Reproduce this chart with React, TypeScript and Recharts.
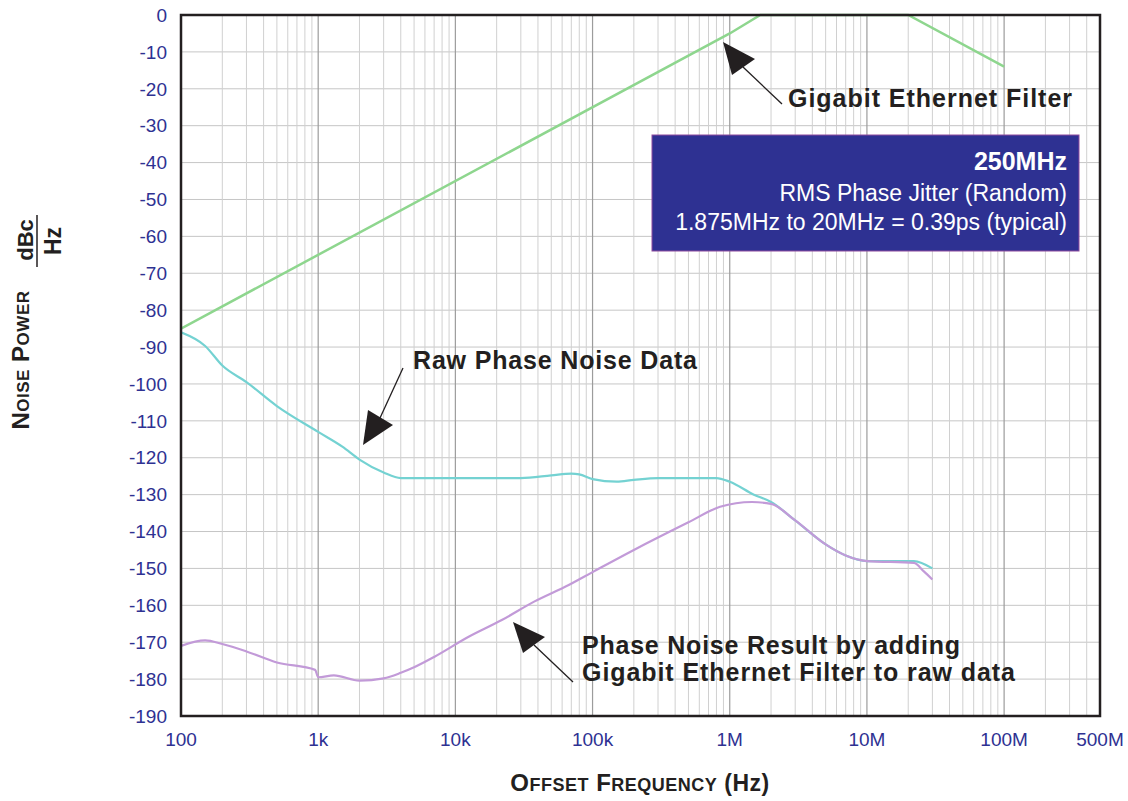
import { LineChart, Line, XAxis, YAxis, CartesianGrid, ReferenceLine } from 'recharts'

const FONT = '"Liberation Sans", Arial, Helvetica, sans-serif'
const TICK_BLUE = '#2e3192'
const INK = '#231f20'

// axis ticks
const FREQ_TICKS = [100, 1e3, 1e4, 1e5, 1e6, 1e7, 1e8, 5e8]
const FREQ_LABELS = ['100', '1k', '10k', '100k', '1M', '10M', '100M', '500M']
const DB_TICKS = [0, -10, -20, -30, -40, -50, -60, -70, -80, -90, -100, -110, -120, -130, -140, -150, -160, -170, -180, -190]

// log grid
const DECADES = [100, 1e3, 1e4, 1e5, 1e6, 1e7, 1e8]
const MINOR_STEPS = [2, 3, 4, 5, 6, 7, 8, 9]

// Gigabit Ethernet filter mask
const filterFreq = [100, 1e6, 1.67e6, 2e7, 1e8]
const filterDb = [-85, -5, 0, 0, -14]

// raw phase noise data
const rawFreq = [100, 150, 200, 300, 500, 1e3, 1.5e3, 2e3, 3e3, 4e3, 1e4, 3e4, 5e4, 7e4, 8e4, 1e5, 1.5e5, 2e5, 3e5, 8e5, 1e6, 1.5e6, 2e6, 3e6, 5e6, 7e6, 1e7, 2.2e7, 3e7]
const rawDb = [-86, -89.7, -95, -99.5, -106, -113, -117, -120.5, -124, -125.5, -125.5, -125.5, -124.8, -124.3, -124.5, -125.8, -126.5, -126, -125.5, -125.5, -126.5, -130, -132, -137, -143.5, -146.5, -148, -148, -150]

// result after filtering
const resFreq = [100, 150, 200, 300, 500, 950, 1e3, 1.3e3, 2e3, 3e3, 4e3, 5e3, 7e3, 1.24e4, 2.18e4, 3.75e4, 6.7e4, 1e5, 2e5, 5e5, 8.5e5, 1.45e6, 2e6, 3e6, 5e6, 7e6, 1e7, 2.2e7, 2.6e7, 3e7]
const resDb = [-171, -169.5, -170.5, -172.5, -175.5, -177.5, -179.5, -179, -180.4, -179.8, -178.3, -176.8, -174, -168.6, -164, -159, -154.5, -151, -145, -137.5, -133.3, -132, -132.5, -137, -143.5, -146.5, -148, -148.5, -150.8, -153]

const toPoints = (fs: number[], vs: number[]) => fs.map((f, i) => ({ f, db: vs[i] }))

const minorLines = DECADES.flatMap(d => MINOR_STEPS.map(m => d * m)).filter(v => v < 5e8)

function fmtFreq(v: number) {
  const i = FREQ_TICKS.indexOf(v)
  return i >= 0 ? FREQ_LABELS[i] : ''
}

function SmallCaps({ words, big, small }: { words: string[]; big: number; small: number }) {
  return (
    <>
      {words.map((w, i) => (
        <tspan key={i}>
          <tspan fontSize={big}>{(i > 0 ? ' ' : '') + w[0]}</tspan>
          <tspan fontSize={small}>{w.slice(1)}</tspan>
        </tspan>
      ))}
    </>
  )
}

function Overlay() {
  return (
    <svg
      width={1128}
      height={801}
      style={{ position: 'absolute', left: 0, top: 0, pointerEvents: 'none' }}
      fontFamily={FONT}
    >
      <rect x={181} y={15} width={919} height={701} fill="none" stroke={INK} strokeWidth={2.5} />

      {/* y axis title */}
      <text transform="translate(29,360) rotate(-90)" textAnchor="middle" fontWeight="bold" fill={INK} letterSpacing={0.5}>
        <SmallCaps words={['NOISE', 'POWER']} big={24} small={17} />
      </text>
      <text transform="translate(33,240) rotate(-90)" textAnchor="middle" fontWeight="bold" fontSize={22} fill={INK}>
        dBc
      </text>
      <line x1={37} y1={215} x2={37} y2={267} stroke={INK} strokeWidth={1.5} />
      <text transform="translate(61,241) rotate(-90)" textAnchor="middle" fontWeight="bold" fontSize={23} fill={INK}>
        Hz
      </text>

      {/* x axis title */}
      <text x={640} y={791} textAnchor="middle" fontWeight="bold" fill={INK} letterSpacing={0.5}>
        <SmallCaps words={['OFFSET', 'FREQUENCY']} big={24} small={18} />
        <tspan fontSize={23}> (Hz)</tspan>
      </text>

      {/* annotations */}
      <text x={788} y={107} fontSize={25} fontWeight="bold" fill={INK} textLength={284} lengthAdjust="spacing">
        Gigabit Ethernet Filter
      </text>
      <line x1={782} y1={104} x2={743} y2={67} stroke={INK} strokeWidth={1.3} />
      <polygon points="723,42 732,75 755,59" fill={INK} />

      <text x={413} y={369} fontSize={25} fontWeight="bold" fill={INK} textLength={284} lengthAdjust="spacing">
        Raw Phase Noise Data
      </text>
      <line x1={403} y1={368} x2={380} y2={418} stroke={INK} strokeWidth={1.3} />
      <polygon points="363,445 368,410 393,425" fill={INK} />

      <text x={582} y={654} fontSize={25} fontWeight="bold" fill={INK} textLength={378} lengthAdjust="spacing">
        Phase Noise Result by adding
      </text>
      <text x={582} y={681} fontSize={25} fontWeight="bold" fill={INK} textLength={433} lengthAdjust="spacing">
        Gigabit Ethernet Filter to raw data
      </text>
      <line x1={573} y1={682} x2={534} y2={645} stroke={INK} strokeWidth={1.3} />
      <polygon points="513,622 523,653 545,637" fill={INK} />

      {/* jitter box */}
      <rect x={652} y={135} width={427} height={116} fill="#2e3192" stroke="#8e4b9e" strokeWidth={1} />
      <text x={1067} y={170} textAnchor="end" fontSize={25} fontWeight="bold" fill="#fff">
        250MHz
      </text>
      <text x={1067} y={201} textAnchor="end" fontSize={23} fill="#fff">
        RMS Phase Jitter (Random)
      </text>
      <text x={1067} y={230} textAnchor="end" fontSize={23} fill="#fff">
        1.875MHz to 20MHz = 0.39ps (typical)
      </text>
    </svg>
  )
}

export default function App() {
  return (
    <div style={{ position: 'absolute', left: 0, top: 0, width: 1128, height: 801, background: '#fff' }}>
      <LineChart width={1128} height={801} margin={{ top: 15, right: 28, bottom: 55, left: 121 }}>
        <CartesianGrid vertical={false} stroke="#c6c6c6" />
        {minorLines.map(v => (
          <ReferenceLine key={v} x={v} stroke="#d0d0d0" strokeWidth={1} />
        ))}
        {DECADES.map(v => (
          <ReferenceLine key={'d' + v} x={v} stroke="#9c9c9c" strokeWidth={1.2} />
        ))}
        <XAxis
          dataKey="f"
          type="number"
          scale="log"
          domain={[100, 5e8]}
          ticks={FREQ_TICKS}
          interval={0}
          tickFormatter={fmtFreq}
          allowDataOverflow
          height={30}
          tickLine={false}
          axisLine={false}
          tickMargin={11}
          tick={{ fill: TICK_BLUE, fontSize: 19, fontFamily: FONT }}
        />
        <YAxis
          dataKey="db"
          type="number"
          domain={[-190, 0]}
          ticks={DB_TICKS}
          interval={0}
          width={60}
          tickLine={false}
          axisLine={false}
          tickMargin={8}
          tick={{ fill: TICK_BLUE, fontSize: 19, fontFamily: FONT }}
        />
        <Line
          data={toPoints(filterFreq, filterDb)}
          dataKey="db"
          type="linear"
          stroke="#8ed68e"
          strokeWidth={2.5}
          dot={false}
          isAnimationActive={false}
        />
        <Line
          data={toPoints(rawFreq, rawDb)}
          dataKey="db"
          type="monotone"
          stroke="#74d2d2"
          strokeWidth={2.2}
          dot={false}
          isAnimationActive={false}
        />
        <Line
          data={toPoints(resFreq, resDb)}
          dataKey="db"
          type="monotone"
          stroke="#c29ad8"
          strokeWidth={2.2}
          dot={false}
          isAnimationActive={false}
        />
      </LineChart>
      <Overlay />
    </div>
  )
}
